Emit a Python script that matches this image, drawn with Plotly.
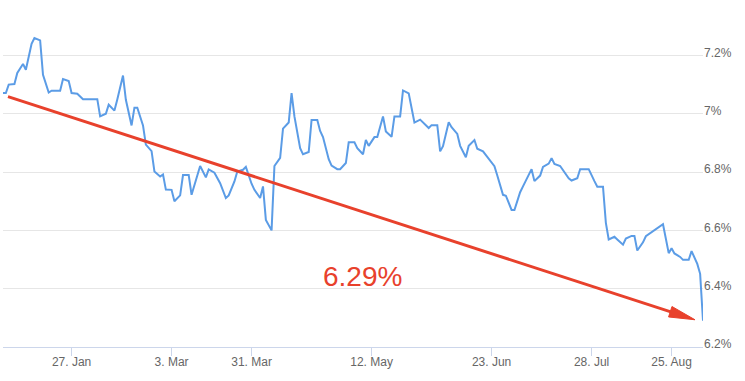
import math
import pandas as pd
import plotly.graph_objects as go

# ---- data ----
dates = [
    "2014-01-03", "2014-01-04", "2014-01-05", "2014-01-07", "2014-01-08", "2014-01-10", "2014-01-11",
    "2014-01-13", "2014-01-14", "2014-01-16", "2014-01-17", "2014-01-19", "2014-01-20", "2014-01-23",
    "2014-01-24", "2014-01-26", "2014-01-27", "2014-01-29", "2014-01-31", "2014-02-05", "2014-02-06",
    "2014-02-08", "2014-02-09", "2014-02-11", "2014-02-12", "2014-02-14", "2014-02-15", "2014-02-17",
    "2014-02-18", "2014-02-19", "2014-02-21", "2014-02-22", "2014-02-24", "2014-02-25", "2014-02-27",
    "2014-02-28", "2014-03-01", "2014-03-03", "2014-03-04", "2014-03-06", "2014-03-07", "2014-03-09",
    "2014-03-10", "2014-03-12", "2014-03-13", "2014-03-15", "2014-03-16", "2014-03-18", "2014-03-19",
    "2014-03-20", "2014-03-22", "2014-03-23", "2014-03-25", "2014-03-26", "2014-03-28", "2014-03-29",
    "2014-03-31", "2014-04-01", "2014-04-03", "2014-04-04", "2014-04-05", "2014-04-07", "2014-04-08",
    "2014-04-10", "2014-04-11", "2014-04-13", "2014-04-14", "2014-04-15", "2014-04-17", "2014-04-18",
    "2014-04-20", "2014-04-21", "2014-04-23", "2014-04-24", "2014-04-25", "2014-04-27", "2014-04-28",
    "2014-04-30", "2014-05-01", "2014-05-03", "2014-05-04", "2014-05-06", "2014-05-07", "2014-05-09",
    "2014-05-10", "2014-05-11", "2014-05-13", "2014-05-14", "2014-05-16", "2014-05-17", "2014-05-19",
    "2014-05-20", "2014-05-22", "2014-05-23", "2014-05-25", "2014-05-26", "2014-05-27", "2014-05-29",
    "2014-05-30", "2014-06-01", "2014-06-02", "2014-06-04", "2014-06-05", "2014-06-06", "2014-06-08",
    "2014-06-09", "2014-06-11", "2014-06-12", "2014-06-14", "2014-06-15", "2014-06-17", "2014-06-18",
    "2014-06-20", "2014-06-21", "2014-06-23", "2014-06-24", "2014-06-25", "2014-06-27", "2014-06-28",
    "2014-06-30", "2014-07-01", "2014-07-03", "2014-07-04", "2014-07-06", "2014-07-07", "2014-07-08",
    "2014-07-10", "2014-07-11", "2014-07-13", "2014-07-14", "2014-07-15", "2014-07-17", "2014-07-18",
    "2014-07-20", "2014-07-21", "2014-07-23", "2014-07-24", "2014-07-27", "2014-07-29", "2014-07-30",
    "2014-08-01", "2014-08-02", "2014-08-03", "2014-08-05", "2014-08-06", "2014-08-08", "2014-08-09",
    "2014-08-11", "2014-08-12", "2014-08-13", "2014-08-15", "2014-08-16", "2014-08-22", "2014-08-24",
    "2014-08-25", "2014-08-26", "2014-08-28", "2014-08-29", "2014-08-31", "2014-09-01", "2014-09-03",
    "2014-09-04", "2014-09-05",
]
values = [
    7.071, 7.071, 7.100, 7.102, 7.140, 7.171, 7.151,
    7.240, 7.260, 7.252, 7.134, 7.073, 7.079, 7.079,
    7.119, 7.112, 7.071, 7.069, 7.050, 7.050, 6.991,
    7.000, 7.031, 7.011, 7.049, 7.131, 7.048, 6.960,
    7.021, 7.021, 6.960, 6.894, 6.872, 6.802, 6.785,
    6.792, 6.740, 6.739, 6.700, 6.720, 6.790, 6.790,
    6.722, 6.787, 6.821, 6.782, 6.809, 6.798, 6.779,
    6.762, 6.711, 6.720, 6.768, 6.802, 6.808, 6.818,
    6.760, 6.739, 6.711, 6.751, 6.636, 6.600, 6.821,
    6.849, 6.949, 6.970, 7.071, 6.991, 6.882, 6.861,
    6.869, 6.979, 6.979, 6.941, 6.920, 6.844, 6.822,
    6.810, 6.810, 6.831, 6.902, 6.902, 6.882, 6.861,
    6.910, 6.890, 6.920, 6.920, 6.991, 6.939, 6.921,
    6.991, 6.991, 7.080, 7.070, 7.020, 6.970, 6.980,
    6.971, 6.951, 6.961, 6.961, 6.871, 6.889, 6.971,
    6.954, 6.931, 6.890, 6.851, 6.890, 6.910, 6.880,
    6.871, 6.858, 6.836, 6.820, 6.788, 6.722, 6.719,
    6.670, 6.670, 6.731, 6.751, 6.794, 6.810, 6.769,
    6.788, 6.818, 6.829, 6.848, 6.828, 6.821, 6.808,
    6.779, 6.771, 6.779, 6.810, 6.810, 6.769, 6.750,
    6.750, 6.626, 6.569, 6.578, 6.569, 6.551, 6.572,
    6.581, 6.581, 6.531, 6.559, 6.580, 6.621, 6.522,
    6.539, 6.521, 6.509, 6.499, 6.499, 6.529, 6.485,
    6.451, 6.290,
]
x_tick_dates = ["2014-01-27", "2014-03-03", "2014-03-31", "2014-05-12",
                "2014-06-23", "2014-07-28", "2014-08-25"]
x_tick_labels = ["27. Jan", "3. Mar", "31. Mar", "12. May", "23. Jun", "28. Jul", "25. Aug"]
y_ticks = [6.2, 6.4, 6.6, 6.8, 7.0, 7.2]
y_tick_labels = ["6.2%", "6.4%", "6.6%", "6.8%", "7%", "7.2%"]

# ---- layout geometry / styles ----
FW, FH = 745, 381
ML, MR, MT, MB = 3, 42, 10, 34
PW, PH = FW - ML - MR, FH - MT - MB
Y0, Y1 = 6.2, 7.356
LINE_BLUE = "#5B9CE6"
RED = "#E8412C"
FONT = "Liberation Sans, Arial, sans-serif"

x0 = pd.Timestamp(dates[0])
x1 = pd.Timestamp(dates[-1])


def to_px(d, v):
    t = (pd.Timestamp(d) - x0) / (x1 - x0)
    return ML + t * PW, MT + (Y1 - v) / (Y1 - Y0) * PH


def from_px(px, py):
    d = x0 + (px - ML) / PW * (x1 - x0)
    v = Y1 - (py - MT) / PH * (Y1 - Y0)
    return d, v


# arrow from first value to last value
sx, sy = to_px(dates[0], values[0])
sx, sy = sx + 5, sy + 3.5
tx, ty = to_px(dates[-1], values[-1])
tx, ty = tx - 8, ty - 1
dx, dy = tx - sx, ty - sy
ln = math.hypot(dx, dy)
ux, uy = dx / ln, dy / ln
nx, ny = -uy, ux
HEAD_LEN, HEAD_HALF = 26, 5.5
bx, by = tx - HEAD_LEN * ux, ty - HEAD_LEN * uy
shaft_end = (bx + 3 * ux, by + 3 * uy)
head_pts = [(tx, ty), (bx + HEAD_HALF * nx, by + HEAD_HALF * ny),
            (bx - HEAD_HALF * nx, by - HEAD_HALF * ny), (tx, ty)]

shaft_data = [from_px(sx, sy), from_px(*shaft_end)]
head_data = [from_px(px, py) for px, py in head_pts]

fig = go.Figure()
fig.add_trace(go.Scatter(
    x=[pd.Timestamp(d) for d in dates], y=values, mode="lines",
    line=dict(color=LINE_BLUE, width=2), hoverinfo="skip", showlegend=False,
))
fig.add_trace(go.Scatter(
    x=[p[0] for p in shaft_data], y=[p[1] for p in shaft_data], mode="lines",
    line=dict(color=RED, width=3), hoverinfo="skip", showlegend=False,
))
fig.add_trace(go.Scatter(
    x=[p[0] for p in head_data], y=[p[1] for p in head_data], mode="lines",
    fill="toself", fillcolor=RED, line=dict(color=RED, width=1),
    hoverinfo="skip", showlegend=False,
))

fig.add_annotation(
    x=(362 - ML) / PW, y=(FH - MB - 276) / PH, xref="paper", yref="paper",
    text=f"{values[-1]:.2f}%", showarrow=False, xanchor="center", yanchor="middle",
    font=dict(family=FONT, size=28, color=RED),
)

fig.update_layout(
    width=FW, height=FH,
    margin=dict(l=ML, r=MR, t=MT, b=MB, pad=0),
    paper_bgcolor="white", plot_bgcolor="white",
    font=dict(family=FONT, size=12, color="#666666"),
    xaxis=dict(
        type="date", range=[x0, x1],
        tickmode="array", tickvals=x_tick_dates, ticktext=x_tick_labels,
        showgrid=False, zeroline=False,
        showline=True, linecolor="#ccd6eb", linewidth=1,
        ticks="outside", ticklen=8, tickcolor="#ccd6eb", tickwidth=1,
        ticklabelstandoff=-4,
        tickfont=dict(family=FONT, size=12, color="#666666"),
        fixedrange=True,
    ),
    yaxis=dict(
        side="right", range=[Y0, Y1],
        tickmode="array", tickvals=y_ticks, ticktext=y_tick_labels,
        showgrid=True, gridcolor="#e6e6e6", gridwidth=1,
        zeroline=False, showline=False, ticks="",
        ticklabelshift=-3,
        tickfont=dict(family=FONT, size=12, color="#666666"),
        fixedrange=True,
    ),
)

fig.write_html(
    "out.html",
    config={"displayModeBar": False},
    post_script="document.body.style.margin='0';document.body.style.overflow='hidden';",
)
